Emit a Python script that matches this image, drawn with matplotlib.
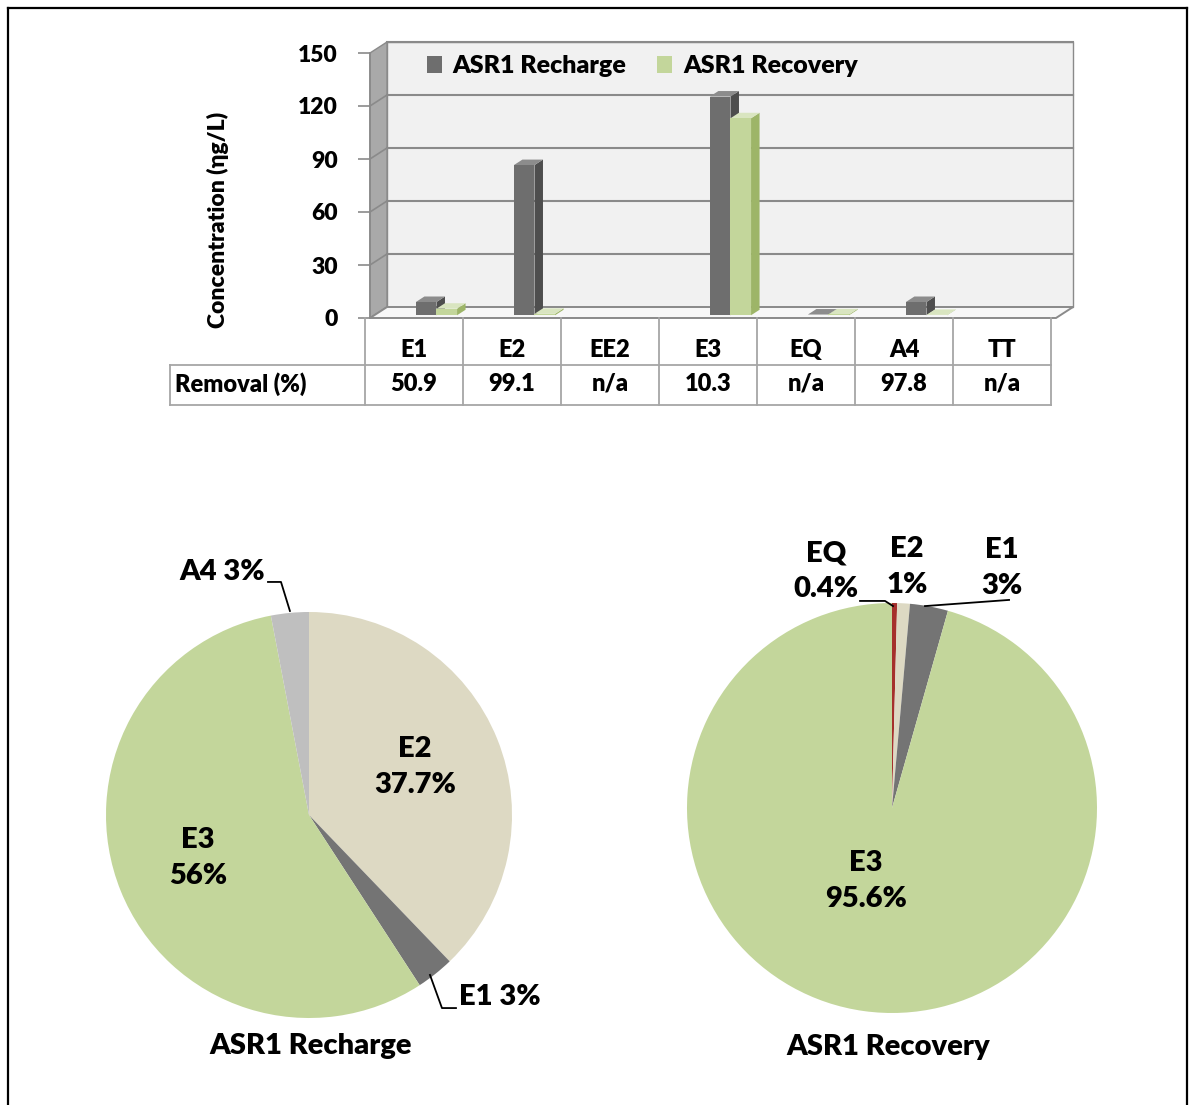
import matplotlib
matplotlib.use('Agg')
import matplotlib.pyplot as plt
import numpy as np
from matplotlib.patches import Polygon, Rectangle, Patch
from matplotlib.transforms import IdentityTransform, ScaledTranslation, blended_transform_factory
from matplotlib.lines import Line2D

# ---------------- data ----------------
categories = ['E1', 'E2', 'EE2', 'E3', 'EQ', 'A4', 'TT']
recharge = [7.5, 85.0, np.nan, 123.8, 0.4, 7.5, np.nan]
recovery = [3.7, 0.8, np.nan, 111.5, 0.5, 0.2, np.nan]
removal = ['50.9', '99.1', 'n/a', '10.3', 'n/a', '97.8', 'n/a']
removal_label = 'Removal (%)'
yticks = [0, 30, 60, 90, 120, 150]
series_names = ['ASR1 Recharge', 'ASR1 Recovery']
ylabel = 'Concentration (ηg/L)'

rech_pie_labels = ['E2', 'E1', 'E3', 'A4']
rech_pie_values = [37.7, 3.0, 56.0, 3.0]
reco_pie_labels = ['EQ', 'E2', 'E1', 'E3']
reco_pie_values = [0.4, 1.0, 3.0, 95.6]
pie_titles = ['ASR1 Recharge', 'ASR1 Recovery']

# ---------------- style ----------------
FONT = ['Lato', 'DejaVu Sans']
WT = 'heavy'
plt.rcParams['font.family'] = FONT
plt.rcParams['font.weight'] = WT
W, H = 1192, 1105
DPI = 100

col_rech = {'front': '#6e6e6e', 'side': '#4e4e4e', 'top': '#8c8c8c'}
col_reco = {'front': '#c3d69b', 'side': '#9db568', 'top': '#d9e5c0'}
pie_colors = {'E1': '#747474', 'E2': '#ddd9c3', 'E3': '#c3d69b', 'A4': '#bfbfbf', 'EQ': '#a5302c'}
grid_col = '#8a8a8a'

fig = plt.figure(figsize=(W / DPI, H / DPI), dpi=DPI)
fig.patch.set_facecolor('white')


def fbox(left, top, right, bottom):
    return [left / W, 1 - bottom / H, (right - left) / W, (bottom - top) / H]


# ---------------- bar chart ----------------
ax = fig.add_axes(fbox(370, 53, 1056, 318))
XMIN, XMAX = -0.45, 6.55
ax.set_xlim(XMIN, XMAX)
ax.set_ylim(0, 150)
ax.patch.set_visible(False)
for s in ['top', 'right', 'bottom']:
    ax.spines[s].set_visible(False)
ax.spines['left'].set_color(grid_col)
ax.spines['left'].set_linewidth(1.2)
ax.spines['left'].set_zorder(50)
ax.set_yticks(yticks)
ax.set_yticklabels([str(v) for v in yticks], fontsize=16.5, fontweight=WT)
ax.tick_params(axis='y', length=9, color=grid_col, width=1.2, pad=14)
ax.set_xticks([])

DX, DY = 17.0, 11.0  # depth offset in pixels


def D(x, y, d=0.0):
    p = ax.transData.transform((x, y))
    return (p[0] + d * DX, p[1] + d * DY)


idt = IdentityTransform()
back = ax.transData + ScaledTranslation(DX / DPI, DY / DPI, fig.dpi_scale_trans)

# back wall
ax.add_patch(Rectangle((XMIN, 0), XMAX - XMIN, 150, transform=back, facecolor='#f1f1f1',
                       edgecolor=grid_col, lw=1.0, zorder=1, clip_on=False))
# side wall
ax.add_patch(Polygon([D(XMIN, 0), D(XMIN, 150), D(XMIN, 150, 1), D(XMIN, 0, 1)], closed=True,
                     transform=idt, facecolor='#a9a9a9', edgecolor=grid_col, lw=1.0, zorder=2, clip_on=False))
# floor
ax.add_patch(Polygon([D(XMIN, 0), D(XMAX, 0), D(XMAX, 0, 1), D(XMIN, 0, 1)], closed=True,
                     transform=idt, facecolor='#f7f7f7', edgecolor=grid_col, lw=1.4, zorder=3, clip_on=False))
# gridlines (back wall + side wall)
for v in yticks[1:]:
    ax.plot([XMIN, XMAX], [v, v], color=grid_col, lw=1.5, transform=back, zorder=2, clip_on=False)
    a, b = D(XMIN, v), D(XMIN, v, 1)
    ax.add_line(Line2D([a[0], b[0]], [a[1], b[1]], transform=idt, color=grid_col, lw=1.2, zorder=3))

# 3D bars
bw = 0.21
offs = [0.08, 0.29]
d0, d1 = 0.25, 0.75
z = 10
for i in range(len(categories)):
    for vals, off, col in [(recharge, offs[0], col_rech), (recovery, offs[1], col_reco)]:
        v = vals[i]
        if np.isnan(v):
            continue
        x0 = i + off - bw / 2
        x1 = x0 + bw
        bars = ax.bar([i + off], [v], width=bw, color=col['front'], zorder=z + 2, clip_on=False)
        tr = ax.transData + ScaledTranslation(d0 * DX / DPI, d0 * DY / DPI, fig.dpi_scale_trans)
        for p in bars.patches:
            p.set_transform(tr)
        ax.add_patch(Polygon([D(x1, 0, d0), D(x1, v, d0), D(x1, v, d1), D(x1, 0, d1)], closed=True,
                             transform=idt, facecolor=col['side'], edgecolor='none', zorder=z, clip_on=False))
        ax.add_patch(Polygon([D(x0, v, d0), D(x1, v, d0), D(x1, v, d1), D(x0, v, d1)], closed=True,
                             transform=idt, facecolor=col['top'], edgecolor='none', zorder=z + 1, clip_on=False))
        z += 3

# table under the chart
bt = blended_transform_factory(ax.transData, ax.transAxes)
AXH = 265.0
row1_y = (318 - 350) / AXH
row2_y = (318 - 384) / AXH
hline1 = (318 - 365) / AXH
hline2 = (318 - 405) / AXH
xleft_tab = XMIN + (170 - 370) / 98.0
tcol = '#a6a6a6'
tfs = 17
for i, c in enumerate(categories):
    ax.text(i, row1_y, c, transform=bt, ha='center', va='center', fontsize=tfs, fontweight=WT, clip_on=False)
    ax.text(i, row2_y, removal[i], transform=bt, ha='center', va='center', fontsize=tfs, fontweight=WT,
            clip_on=False)
ax.text(xleft_tab + 0.05, row2_y, removal_label, transform=bt, ha='left', va='center', fontsize=tfs,
        fontweight=WT, clip_on=False)
for k in range(len(categories) + 1):
    ax.plot([k - 0.5, k - 0.5], [0, hline2], transform=bt, color=tcol, lw=1.3, clip_on=False, zorder=4)
ax.plot([xleft_tab, 6.5], [hline1, hline1], transform=bt, color=tcol, lw=1.3, clip_on=False)
ax.plot([xleft_tab, 6.5], [hline2, hline2], transform=bt, color=tcol, lw=1.3, clip_on=False)
ax.plot([xleft_tab, xleft_tab], [hline1, hline2], transform=bt, color=tcol, lw=1.3, clip_on=False)

# legend
handles = [Patch(facecolor=col_rech['front'], edgecolor='none'),
           Patch(facecolor=col_reco['front'], edgecolor='none')]
leg = fig.legend(handles, series_names, loc='center left', bbox_to_anchor=(404 / W, 1 - 66 / H), ncol=2,
                 frameon=False, handlelength=0.6, handleheight=0.7, handletextpad=0.45,
                 columnspacing=1.2, prop={'weight': WT, 'size': 18, 'family': FONT})

fig.text(218 / W, 1 - 220 / H, ylabel, rotation=90, ha='center', va='center', fontsize=16.5, fontweight=WT,
         family=FONT)


# ---------------- pies ----------------
def pie_axes(cx, cy, r):
    a = fig.add_axes(fbox(cx - r, cy - r, cx + r, cy + r))
    a.set_xlim(-1, 1)
    a.set_ylim(-1, 1)
    a.axis('off')
    return a


PFS = 21
axl = pie_axes(309, 815, 203)
axl.pie(rech_pie_values, colors=[pie_colors[l] for l in rech_pie_labels], startangle=90, counterclock=False,
        radius=1.0, wedgeprops={'linewidth': 0})
axl.set_xlim(-1, 1)
axl.set_ylim(-1, 1)
lbl = dict(fontsize=PFS, fontweight=WT, ha='center', va='center', clip_on=False, linespacing=1.45)
axl.text(0.522, 0.236, 'E2\n37.7%', **lbl)
axl.text(-0.547, -0.212, 'E3\n56%', **lbl)
axl.text(-0.429, 1.197, 'A4 3%', **lbl)
axl.plot([-0.202, -0.138, -0.094], [1.148, 1.148, 1.005], color='black', lw=1.3, clip_on=False)
axl.text(0.739, -0.897, 'E1 3%', fontsize=PFS, fontweight=WT, ha='left', va='center', clip_on=False)
axl.plot([0.596, 0.655, 0.724], [-0.788, -0.951, -0.951], color='black', lw=1.3, clip_on=False)
axl.text(0.01, -1.14, pie_titles[0], fontsize=PFS, fontweight=WT, ha='center', va='center', clip_on=False)

axr = pie_axes(892, 808, 205)
axr.pie(reco_pie_values, colors=[pie_colors[l] for l in reco_pie_labels], startangle=90, counterclock=False,
        radius=1.0, wedgeprops={'linewidth': 0})
axr.set_xlim(-1, 1)
axr.set_ylim(-1, 1)
axr.text(-0.127, -0.356, 'E3\n95.6%', **lbl)
axr.text(-0.322, 1.156, 'EQ\n0.4%', **lbl)
axr.text(0.073, 1.176, 'E2\n1%', **lbl)
axr.text(0.537, 1.171, 'E1\n3%', **lbl)
axr.plot([-0.156, -0.034, 0.005], [1.010, 1.010, 0.985], color='black', lw=1.3, clip_on=False)
axr.plot([0.571, 0.161], [1.015, 0.985], color='black', lw=1.3, clip_on=False)
axr.text(-0.02, -1.165, pie_titles[1], fontsize=PFS, fontweight=WT, ha='center', va='center', clip_on=False)

# outer border
for xs, ys in [([8, 8], [8, H]), ([8, 1187], [8, 8]), ([1187, 1187], [8, H])]:
    fig.add_artist(Line2D([x / W for x in xs], [1 - y / H for y in ys], color='black', lw=1.6,
                          transform=fig.transFigure))

fig.savefig('out.png', dpi=DPI, facecolor='white')
